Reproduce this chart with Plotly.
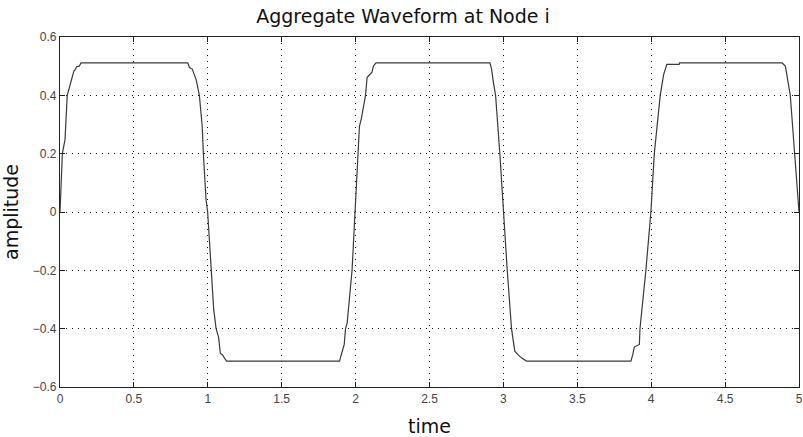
import plotly.graph_objects as go

# Aggregate waveform samples (time, amplitude)
time = [
    0.000, 0.016, 0.034, 0.049, 0.072, 0.094, 0.105, 0.112, 0.130, 0.142,
    0.865, 0.876, 0.895, 0.921, 0.943, 0.962, 0.970, 0.988, 0.999, 1.022,
    1.040, 1.056, 1.073, 1.085, 1.100, 1.112, 1.127,
    1.891, 1.909, 1.923, 1.932, 1.943, 1.976, 1.983, 1.998, 2.017, 2.026,
    2.040, 2.067, 2.078, 2.095, 2.111, 2.120, 2.138,
    2.909, 2.920, 2.931, 2.947, 2.976, 2.999, 3.026, 3.055, 3.066, 3.077,
    3.100, 3.122, 3.156,
    3.863, 3.875, 3.886, 3.920, 3.924, 3.964, 3.998, 4.021, 4.043, 4.061,
    4.084, 4.106, 4.189, 4.192,
    4.885, 4.895, 4.908, 4.941, 4.968, 5.000,
]
amplitude = [
    0.000, 0.200, 0.249, 0.400, 0.443, 0.483, 0.490, 0.498, 0.500, 0.511,
    0.511, 0.495, 0.490, 0.454, 0.400, 0.294, 0.200, 0.043, 0.000, -0.200,
    -0.334, -0.400, -0.430, -0.485, -0.490, -0.500, -0.511,
    -0.511, -0.474, -0.454, -0.400, -0.380, -0.200, -0.128, 0.000, 0.200, 0.294,
    0.323, 0.400, 0.462, 0.470, 0.479, 0.500, 0.511,
    0.511, 0.490, 0.449, 0.400, 0.200, 0.000, -0.200, -0.400, -0.448, -0.477,
    -0.490, -0.500, -0.511,
    -0.511, -0.489, -0.463, -0.454, -0.400, -0.200, 0.000, 0.200, 0.311, 0.400,
    0.471, 0.506, 0.506, 0.511,
    0.511, 0.505, 0.500, 0.400, 0.200, 0.000,
]

x_ticks = [0, 0.5, 1, 1.5, 2, 2.5, 3, 3.5, 4, 4.5, 5]
x_tick_text = ["0", "0.5", "1", "1.5", "2", "2.5", "3", "3.5", "4", "4.5", "5"]
y_ticks = [-0.6, -0.4, -0.2, 0, 0.2, 0.4, 0.6]
y_tick_text = ["\u22120.6", "\u22120.4", "\u22120.2", "0", "0.2", "0.4", "0.6"]

fig = go.Figure()
fig.add_trace(go.Scatter(
    x=time, y=amplitude, mode="lines",
    line=dict(color="#3a3a3a", width=1.2),
    showlegend=False, hoverinfo="skip",
))

axis_common = dict(
    showline=True, linecolor="#222222", linewidth=1.3, mirror="ticks",
    ticks="inside", ticklen=5, tickcolor="#222222", tickwidth=1.3,
    showgrid=True, gridcolor="#111111", gridwidth=1.2, griddash="1.2px,4.8px",
    zeroline=False, ticklabeloverflow="allow",
    tickfont=dict(family="Liberation Sans, Arial, sans-serif", size=12, color="#444444"),
)

fig.update_xaxes(
    range=[0, 5], tickvals=x_ticks, ticktext=x_tick_text,
    title=dict(text="time", standoff=16,
               font=dict(family="DejaVu Sans, Verdana, sans-serif", size=19, color="#111111")),
    **axis_common,
)
fig.update_yaxes(
    range=[-0.6, 0.6], tickvals=y_ticks, ticktext=y_tick_text,
    title=dict(text="amplitude", standoff=9,
               font=dict(family="DejaVu Sans, Verdana, sans-serif", size=19, color="#111111")),
    **axis_common,
)

fig.update_layout(
    width=803, height=437,
    margin=dict(l=60, r=4, t=37, b=50, autoexpand=False),
    paper_bgcolor="white", plot_bgcolor="white",
    title=dict(
        text="Aggregate Waveform at Node i",
        x=403 / 803, xref="container", xanchor="center",
        y=1 - 16 / 437, yref="container", yanchor="middle",
        font=dict(family="DejaVu Sans, Verdana, sans-serif", size=19, color="#111111"),
    ),
)

fig.write_html("out.html")
